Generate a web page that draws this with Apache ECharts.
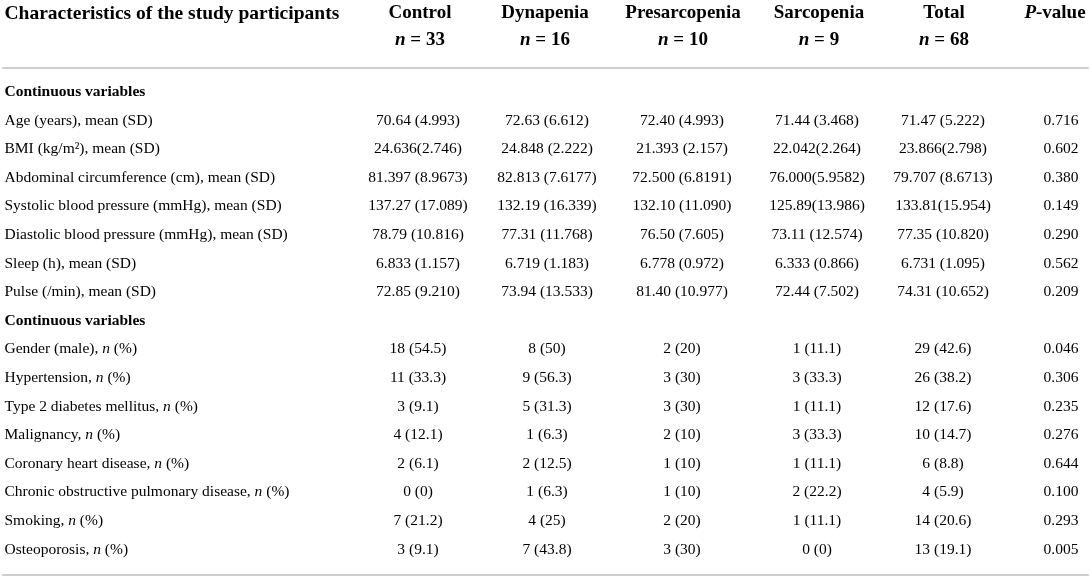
<!DOCTYPE html>
<html>
<head>
<meta charset="utf-8">
<title>Characteristics of the study participants</title>
<script src="https://cdn.jsdelivr.net/npm/echarts@6/dist/echarts.min.js"></script>
<style>
	html, body { margin: 0; padding: 0; background: #fff; }
	#main { width: 1091px; height: 580px; }
</style>
</head>
<body>
<div id="main"></div>
<script>
// 表头
var tableTitle = 'Characteristics of the study participants';
var groupNames = ['Control', 'Dynapenia', 'Presarcopenia', 'Sarcopenia', 'Total'];
var groupN = [33, 16, 10, 9, 68];
var pHeader = 'P-value';

// 行名
var rowLabels = [
	'Continuous variables',
	'Age (years), mean (SD)',
	'BMI (kg/m²), mean (SD)',
	'Abdominal circumference (cm), mean (SD)',
	'Systolic blood pressure (mmHg), mean (SD)',
	'Diastolic blood pressure (mmHg), mean (SD)',
	'Sleep (h), mean (SD)',
	'Pulse (/min), mean (SD)',
	'Continuous variables',
	'Gender (male), n (%)',
	'Hypertension, n (%)',
	'Type 2 diabetes mellitus, n (%)',
	'Malignancy, n (%)',
	'Coronary heart disease, n (%)',
	'Chronic obstructive pulmonary disease, n (%)',
	'Smoking, n (%)',
	'Osteoporosis, n (%)'
];

// 各组数值
var controlVals = ['', '70.64 (4.993)', '24.636(2.746)', '81.397 (8.9673)', '137.27 (17.089)', '78.79 (10.816)', '6.833 (1.157)', '72.85 (9.210)',
	'', '18 (54.5)', '11 (33.3)', '3 (9.1)', '4 (12.1)', '2 (6.1)', '0 (0)', '7 (21.2)', '3 (9.1)'];
var dynapeniaVals = ['', '72.63 (6.612)', '24.848 (2.222)', '82.813 (7.6177)', '132.19 (16.339)', '77.31 (11.768)', '6.719 (1.183)', '73.94 (13.533)',
	'', '8 (50)', '9 (56.3)', '5 (31.3)', '1 (6.3)', '2 (12.5)', '1 (6.3)', '4 (25)', '7 (43.8)'];
var presarcopeniaVals = ['', '72.40 (4.993)', '21.393 (2.157)', '72.500 (6.8191)', '132.10 (11.090)', '76.50 (7.605)', '6.778 (0.972)', '81.40 (10.977)',
	'', '2 (20)', '3 (30)', '3 (30)', '2 (10)', '1 (10)', '1 (10)', '2 (20)', '3 (30)'];
var sarcopeniaVals = ['', '71.44 (3.468)', '22.042(2.264)', '76.000(5.9582)', '125.89(13.986)', '73.11 (12.574)', '6.333 (0.866)', '72.44 (7.502)',
	'', '1 (11.1)', '3 (33.3)', '1 (11.1)', '3 (33.3)', '1 (11.1)', '2 (22.2)', '1 (11.1)', '0 (0)'];
var totalVals = ['', '71.47 (5.222)', '23.866(2.798)', '79.707 (8.6713)', '133.81(15.954)', '77.35 (10.820)', '6.731 (1.095)', '74.31 (10.652)',
	'', '29 (42.6)', '26 (38.2)', '12 (17.6)', '10 (14.7)', '6 (8.8)', '4 (5.9)', '14 (20.6)', '13 (19.1)'];
var pVals = ['', '0.716', '0.602', '0.380', '0.149', '0.290', '0.562', '0.209',
	'', '0.046', '0.306', '0.235', '0.276', '0.644', '0.100', '0.293', '0.005'];

// 版式（像素位置，与数据分开）
var labelX = 4;
var headX = [420, 545, 683, 819, 944, 1055];
var bodyX = [418, 547, 682, 817, 943, 1061];
var font = '"Liberation Serif", "Times New Roman", serif';
var ink = '#000000';
var ruleColor = '#cfcfcf';

var myChart = echarts.init(document.getElementById('main'), null, { renderer: 'canvas' });

function baseText(size, weight) {
	return {
		fontFamily: font,
		fontSize: size,
		fontWeight: weight || 'normal',
		color: ink,
		opacity: 1
	};
}

// 斜体 n
function italicN(str, bold) {
	var key = bold ? 'bi' : 'i';
	return str.replace(/(^|, )n( |$)/, '$1{' + key + '|n}$2');
}

function richSet(size) {
	return {
		r: baseText(size),
		b: baseText(size, 'bold'),
		i: Object.assign(baseText(size), { fontStyle: 'italic' }),
		bi: Object.assign(baseText(size, 'bold'), { fontStyle: 'italic' })
	};
}

function textSeries(gridIdx, points, size, weight, leftAlign) {
	return {
		type: 'scatter',
		xAxisIndex: gridIdx === 0 ? 0 : 2,
		yAxisIndex: gridIdx,
		symbolSize: 1,
		silent: true,
		itemStyle: { color: 'transparent' },
		data: points,
		label: Object.assign(baseText(size, weight), {
			show: true,
			position: leftAlign ? 'right' : 'inside',
			distance: 0,
			formatter: function (p) { return p.data.text; },
			rich: richSet(size)
		})
	};
}

var headRows = ['name', 'n'];
var bodyRows = rowLabels.map(function (s, i) { return 'r' + i; });
var columns = [controlVals, dynapeniaVals, presarcopeniaVals, sarcopeniaVals, totalVals, pVals];

var series = [];

// 表头
series.push(textSeries(0, [{ value: [labelX, 0], text: tableTitle }], 19.5, 'bold', true));
var headPts = [];
groupNames.forEach(function (g, k) {
	headPts.push({ value: [headX[k], 0], text: g });
	headPts.push({ value: [headX[k], 1], text: '{bi|n} = ' + groupN[k] });
});
headPts.push({ value: [headX[5], 0], text: pHeader.replace(/^P/, '{bi|P}') });
series.push(textSeries(0, headPts, 19, 'bold', false));

// 行名
var sectionPts = [], labelPts = [];
rowLabels.forEach(function (s, i) {
	var blank = columns.every(function (c) { return c[i] === ''; });
	if (blank) {
		sectionPts.push({ value: [labelX, i], text: s });
	} else {
		labelPts.push({ value: [labelX, i], text: italicN(s, false) });
	}
});
series.push(textSeries(1, sectionPts, 15.5, 'bold', true));
series.push(textSeries(1, labelPts, 15.5, 'normal', true));

// 数值
columns.forEach(function (col, k) {
	var pts = [];
	col.forEach(function (v, i) {
		if (v !== '') pts.push({ value: [bodyX[k], i], text: v });
	});
	series.push(textSeries(1, pts, 15.5, 'normal', false));
});

function hiddenX(gridIndex, position, offset, showLine) {
	return {
		type: 'value',
		gridIndex: gridIndex,
		min: 3,
		max: 1088,
		position: position,
		offset: offset,
		axisLine: { show: showLine, onZero: false, lineStyle: { color: ruleColor, width: 2 } },
		axisTick: { show: false },
		axisLabel: { show: false },
		splitLine: { show: false }
	};
}

var option = {
	animation: false,
	backgroundColor: '#fff',
	grid: [{
		left: 3, right: 3, top: -2, height: 56
	}, {
		left: 3, right: 3, top: 77.7, height: 486.2
	}],
	xAxis: [
		hiddenX(0, 'bottom', 0, false),
		hiddenX(1, 'top', 9.7, true),     // 表头下横线
		hiddenX(1, 'bottom', 11.1, true)  // 表底横线
	],
	yAxis: [{
		type: 'category',
		gridIndex: 0,
		inverse: true,
		data: headRows,
		axisLine: { show: false },
		axisTick: { show: false },
		axisLabel: { show: false },
		splitLine: { show: false }
	}, {
		type: 'category',
		gridIndex: 1,
		inverse: true,
		data: bodyRows,
		axisLine: { show: false },
		axisTick: { show: false },
		axisLabel: { show: false },
		splitLine: { show: false }
	}],
	series: series
};

myChart.setOption(option);
window.addEventListener('resize', function () {
	myChart.resize();
});
</script>
</body>
</html>
